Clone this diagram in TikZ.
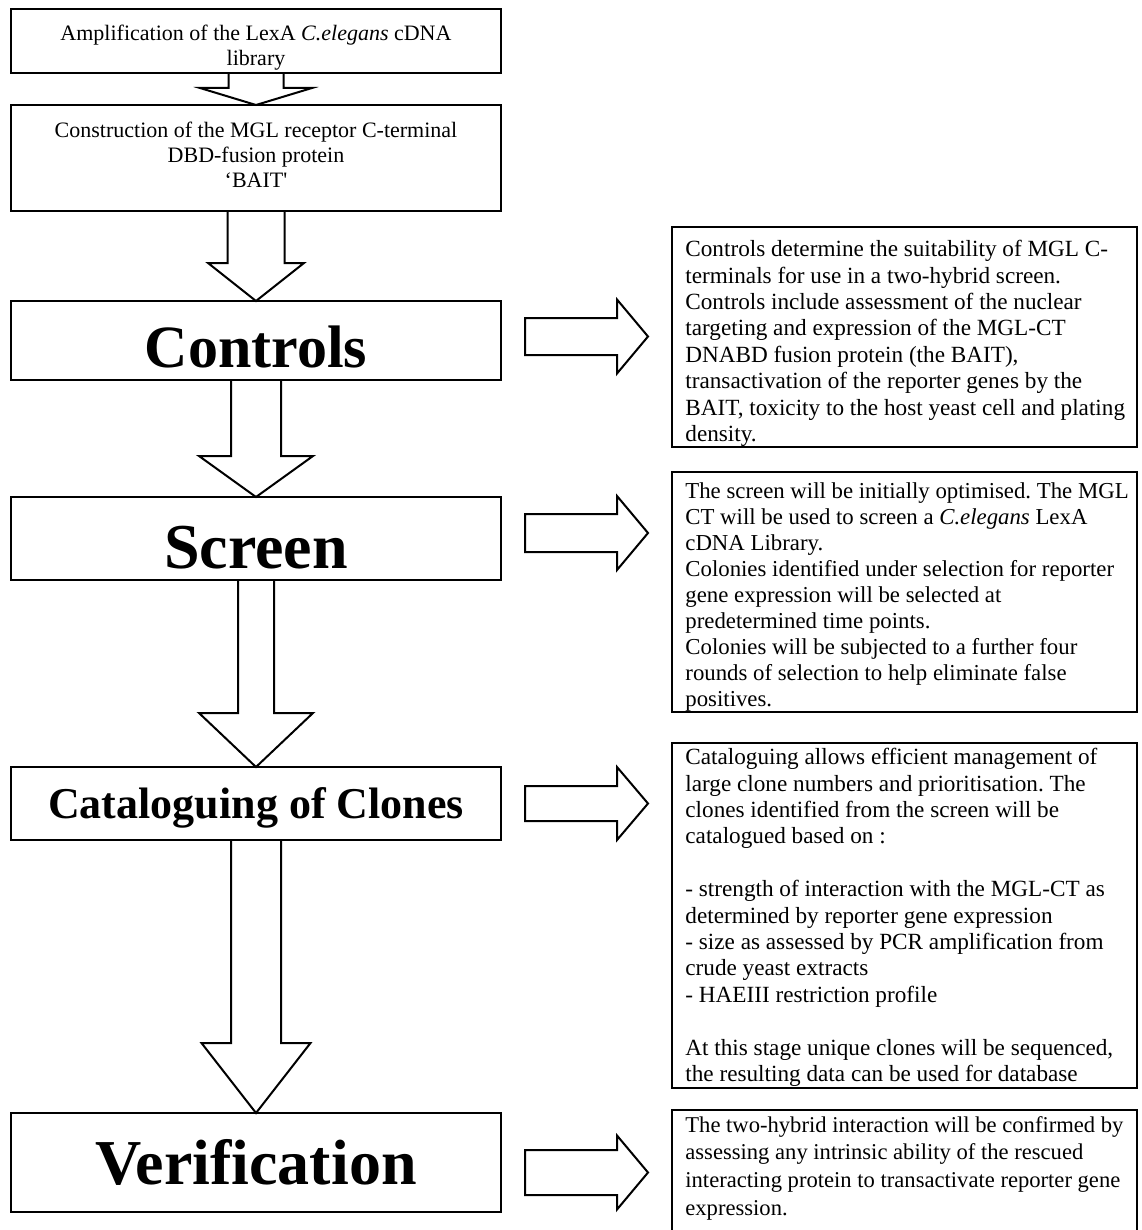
\documentclass[tikz,border=0pt]{standalone}
\usepackage{fontspec}
\setmainfont{Liberation Serif}
\usetikzlibrary{positioning,calc}
\frenchspacing

\tikzset{
  stagebox/.style={draw, line width=1pt, outer sep=0pt, minimum width=245pt, inner sep=2pt,
    align=center, font=\fontsize{11}{12.5}\selectfont},
  stagetitle/.style={stagebox, font=\fontsize{#1}{#1}\selectfont\bfseries, text depth=0pt},
  notebox/.style={draw, line width=1pt, outer sep=0pt, anchor=north west, minimum width=232.5pt,
    inner sep=0pt},
  notetext/.style={anchor=north west, align=left, inner xsep=6.5pt, inner ysep=6.5pt,
    font=\fontsize{11.6}{13.2}\selectfont},
  blockarrow/.style={draw, line width=1pt, line join=miter}
}

% hollow arrow straight down from one stage to the next
% #1 from, #2 to, #3 shaft half-width, #4 head half-width, #5 head length
\newcommand{\dropArrow}[5]{%
  \draw[blockarrow] ($(#1.south)+(-#3,0)$) -- ($(#2.north)+(-#3,-#5)$)
    -- ($(#2.north)+(-#4,-#5)$) -- (#2.north) -- ($(#2.north)+(#4,-#5)$)
    -- ($(#2.north)+(#3,-#5)$) -- ($(#1.south)+(#3,0)$);}

% hollow arrow pointing from a stage towards its note
% #1 stage, #2 note, #3 vertical offset, #4 shaft half-width, #5 head half-width, #6 head length
\newcommand{\sideArrow}[6]{%
  \coordinate (tail) at ($(#1.east)+(24,#3)$);
  \coordinate (tip) at ($(#2.west |- tail)+(-24,0)$);
  \draw[blockarrow] ($(tail)+(0,-#4)$) -- ($(tip)+(-#6,-#4)$) -- ($(tip)+(-#6,-#5)$)
    -- (tip) -- ($(tip)+(-#6,#5)$) -- ($(tip)+(-#6,#4)$) -- ($(tail)+(0,#4)$) -- cycle;}

\begin{document}
\begin{tikzpicture}[x=0.5pt,y=-0.5pt]
  \useasboundingbox (0,0) rectangle (1141,1230);

  % stages
  \node[stagebox, minimum height=32pt, text height=24.6pt, text depth=0pt] (amp) at (256,41)
    {Amplification of the LexA \textit{C.elegans} cDNA\\library};
  \node[stagebox, minimum height=53pt, text height=32.5pt, text depth=3pt, below=16pt of amp] (bait)
    {Construction of the MGL receptor C-terminal\\DBD-fusion protein\\`BAIT\textquotesingle};
  \node[stagetitle=30, text height=26.5pt, minimum height=39.5pt, below=45pt of bait] (ctl) {Controls};
  \node[stagetitle=32, text height=29.5pt, minimum height=41.5pt, below=58.5pt of ctl] (scr) {Screen};
  \node[stagetitle=22, text height=14.5pt, minimum height=36.5pt, below=93.5pt of scr] (cat) {Cataloguing of Clones};
  \node[stagetitle=32, text height=21.5pt, minimum height=49.5pt, below=136.5pt of cat] (ver) {Verification};

  \dropArrow{amp}{bait}{27.5}{56}{17}
  \dropArrow{bait}{ctl}{28.5}{48}{38}
  \dropArrow{ctl}{scr}{25}{57}{41}
  \dropArrow{scr}{cat}{18}{57}{54}
  \dropArrow{cat}{ver}{25}{54.5}{70}

  % notes
  \node[notebox, minimum height=110pt] (ctlnote) at (672,227) {};
  \node[notetext] (ctltext) at (ctlnote.north west)
    {Controls determine the suitability of MGL C-\\terminals for use in a two-hybrid screen.\\
     Controls include assessment of the nuclear\\targeting and expression of the MGL-CT\\
     DNABD fusion protein (the BAIT),\\transactivation of the reporter genes by the\\
     BAIT, toxicity to the host yeast cell and plating\\density.};

  \node[notebox, minimum height=120pt] (scrnote) at (672,472) {};
  \node[notetext, inner ysep=5pt, font=\fontsize{11.4}{13}\selectfont] (scrtext) at (scrnote.north west)
    {The screen will be initially optimised. The MGL\\CT will be used to screen a \textit{C.elegans} LexA\\
     cDNA Library.\\Colonies identified under selection for reporter\\gene expression will be selected at\\
     predetermined time points.\\Colonies will be subjected to a further four\\
     rounds of selection to help eliminate false\\positives.};

  \node[notebox, minimum height=172.5pt] (catnote) at (672,743) {};
  \node[notetext, inner ysep=2.5pt] (cattext) at (catnote.north west)
    {Cataloguing allows efficient management of\\large clone numbers and prioritisation. The\\
     clones identified from the screen will be\\catalogued based on :\\[13.2pt]
     - strength of interaction with the MGL-CT as\\determined by reporter gene expression\\
     - size as assessed by PCR amplification from\\crude yeast extracts\\
     - HAEIII restriction profile\\[13.2pt]
     At this stage unique clones will be sequenced,\\the resulting data can be used for database};

  \node[notebox, minimum height=70pt] (vernote) at (672,1110) {};
  \node[notetext, inner ysep=3pt, font=\fontsize{11.3}{13.8}\selectfont] (vertext) at (vernote.north west)
    {The two-hybrid interaction will be confirmed by\\assessing any intrinsic ability of the rescued\\
     interacting protein to transactivate reporter gene\\expression.};

  \sideArrow{ctl}{ctlnote}{-4}{18.5}{37}{31}
  \sideArrow{scr}{scrnote}{-5.5}{19}{37}{31}
  \sideArrow{cat}{catnote}{0}{17.5}{36.5}{31}
  \sideArrow{ver}{vernote}{10}{22.5}{37}{31}
\end{tikzpicture}
\end{document}
